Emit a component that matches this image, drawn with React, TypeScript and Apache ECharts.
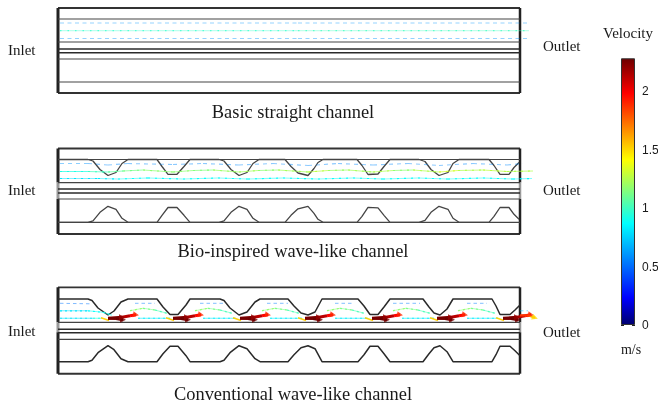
import React, { useEffect, useRef } from "react";
import * as echarts from "echarts";

type P2 = [number, number];
type P3 = [number, number, number];

const SERIF = "'Liberation Serif'";
const SANS = "'Liberation Sans'";

// velocity colour scale (bottom to top)
const velocityMax = 2.283;
const velocityStops: [number, string][] = [
  [0, "#00006e"], [0.1, "#0000ff"], [0.38, "#00ffff"], [0.62, "#ffff00"], [0.87, "#ff0000"], [1, "#6e0000"],
];
const velocityTicks = [0, 0.5, 1, 1.5, 2];

// Captions
const captions = ["Basic straight channel", "Bio-inspired wave-like channel", "Conventional wave-like channel"];

// Horizontal wall levels in each panel (panel-relative)
const panelHeights = [85, 85.5, 86.4];
const lines1 = [11, 34, 51, 74];
const thick1 = [41, 44.7];
const lines2 = [11, 34.2, 50.5, 73.8];
const thick2 = [40.5, 44.5];
const lines3 = [35, 52];
const thick3 = [42, 45.4];

// Wave walls: horizontal stations and depth of the wave at each
const waveX2 = [0,30,35,42,50,58,64,70,99,104,110,119,126,132,161,166,173,181,189,195,201,227,233,240,250,256,260,265,299,304,310,320,326,332,361,367,373,381,390,395,401,431,436,442,451,456,461];
const waveD2 = [0,0,1.5,10,16,13,4,0,0,7,14.8,14.8,7,0,0,1.5,10,16,13,4,0,0,7,13.5,16,9,3,0,0,6,15,14.5,7,0,0,2,10,16,13,4,0,0,6,14.8,14.8,8,3];
const waveX3 = [0,30,34,40,50,56,63,70,99,105,112,120,128,132,162,166,172,181,189,197,202,230,236,243,250,257,264,300,306,312,320,326,332,365,371,376,382,389,395,434,438,442,452,457,462];
const waveD3 = [0,0,1.5,9,16,12,3,0,0,8,15.5,15.5,6,0,0,1.5,9,16,13,3,0,0,7,14,16,13,0,0,7,15.5,15.5,8,0,0,8,14,16,10,0,0,7,15.5,15.5,11,6];
const waveTop2 = 11, waveBase2 = 73.8, waveTop3 = 11.7, waveBase3 = 74.4;

// Streamlines [x, y, velocity]
const flow1: P3[][] = [
  [[2, 15, 0.6], [240, 15, 0.6], [469, 15, 0.6]],
  [[2, 22.7, 0.95], [240, 22.7, 1.0], [471, 22.7, 1.0]],
  [[2, 30.5, 0.6], [240, 30.5, 0.6], [469, 30.5, 0.6]],
];
const flow2: P3[][] = [
  [[2, 15, 0.6], [30, 15, 0.6], [50, 16.5, 0.55], [70, 15, 0.6], [115, 16, 0.55], [145, 15, 0.6], [181, 16.5, 0.55], [215, 15, 0.6], [250, 17, 0.55], [280, 15, 0.6], [315, 16.5, 0.55], [350, 15, 0.6], [381, 17, 0.55], [415, 15, 0.6], [449, 16.5, 0.55], [465, 15, 0.6]],
  [[2, 23, 0.9], [30, 23, 0.95], [50, 23.5, 1.05], [65, 22.5, 1.1], [85, 21.5, 1.15], [115, 23.5, 1.2], [135, 22, 1.15], [155, 21.5, 1.15], [181, 23.5, 1.25], [200, 22, 1.2], [220, 21.5, 1.15], [250, 23.5, 1.3], [270, 22, 1.25], [290, 21.5, 1.15], [315, 23.5, 1.3], [335, 22, 1.2], [355, 21.5, 1.15], [381, 23.5, 1.35], [400, 22, 1.3], [425, 21.5, 1.2], [449, 23, 1.35], [475, 22.5, 1.15]],
  [[2, 30, 0.8], [40, 30, 0.8], [60, 30.5, 0.85], [90, 29.5, 0.9], [125, 30.5, 0.85], [160, 29.5, 0.9], [190, 30.5, 0.85], [225, 29.5, 0.9], [260, 30.5, 0.85], [295, 29.5, 0.9], [325, 30.5, 0.85], [360, 29.5, 0.9], [390, 30.5, 0.85], [425, 29.5, 0.9], [455, 30.5, 0.85], [474, 30, 0.85]],
];
const flow3Top: P3[][] = [
  [[2, 16, 0.55], [32, 16.5, 0.5]],
  [[77, 16, 0.55], [97, 16, 0.55]],
  [[142, 16, 0.55], [167, 16, 0.55]],
  [[209, 16, 0.55], [230, 16, 0.55]],
  [[277, 16, 0.55], [295, 16, 0.55]],
  [[335, 16, 0.55], [362, 16, 0.55]],
  [[409, 16, 0.55], [429, 16, 0.55]],
  [[462, 23.5, 0.7], [470, 23.5, 0.7]],
];
const flow3Mid: P3[][] = [
  [[2, 23.5, 0.75], [30, 23.5, 0.85], [45, 25, 0.9], [54, 28, 0.9]],
  [[72, 23.4, 1.2], [85, 21, 1.15], [97, 22.7, 1.1], [109, 26, 0.95]],
  [[137, 23.4, 1.2], [150, 21, 1.15], [162, 22.7, 1.1], [174, 26, 0.95]],
  [[204, 23.4, 1.2], [217, 21, 1.15], [229, 22.7, 1.1], [241, 26, 0.95]],
  [[269, 23.4, 1.2], [282, 21, 1.15], [294, 22.7, 1.1], [306, 26, 0.95]],
  [[335, 23.4, 1.2], [348, 21, 1.15], [360, 22.7, 1.1], [372, 26, 0.95]],
  [[400, 23.4, 1.2], [413, 21, 1.15], [425, 22.7, 1.1], [437, 26, 0.95]],
];
const flow3Low: P3[][] = [
  [[2, 31, 0.75], [35, 31, 0.85], [44, 31, 1.0]],
  [[80, 31, 0.8], [112, 31, 0.85]],
  [[145, 31, 0.8], [178, 31, 0.85]],
  [[212, 31, 0.8], [244, 31, 0.85]],
  [[277, 31, 0.8], [310, 31, 0.85]],
  [[344, 31, 0.8], [376, 31, 0.85]],
  [[409, 31, 0.8], [440, 31, 0.85]],
];

// Fast jets in the conventional channel: one arrow cluster per wave
const jetStarts = [50, 115, 182, 247, 314, 379, 445];
const jetFeed: P3[] = [[-7, 30.5, 1.5], [1, 33.3, 1.55]];
const jetMain: P3[] = [[0, 31, 2.28], [14, 30, 2.2], [22, 28.5, 2.05], [28, 27.5, 1.9]];
const jetSide: P3[] = [[0, 31, 2.25], [8, 31.2, 2.28], [15, 32.5, 2.28]];
const jetTailX = 477;
const jetTail: P3[] = [[462, 28, 2.05], [470, 28, 1.7], [477, 30.5, 1.5]];

function hexMix(a: string, b: string, t: number) {
  const c = (s: string, i: number) => parseInt(s.slice(1 + i * 2, 3 + i * 2), 16);
  const v = [0, 1, 2].map((i) => Math.round(c(a, i) + (c(b, i) - c(a, i)) * t));
  return `rgb(${v[0]},${v[1]},${v[2]})`;
}
function velocityColor(v: number) {
  const t = Math.min(1, Math.max(0, v / velocityMax));
  for (let i = 1; i < velocityStops.length; i++) {
    if (t <= velocityStops[i][0]) {
      const [p0, c0] = velocityStops[i - 1];
      const [p1, c1] = velocityStops[i];
      return hexMix(c0, c1, (t - p0) / (p1 - p0));
    }
  }
  return velocityStops[velocityStops.length - 1][1];
}

function wall(panel: number, pts: P2[], color: string, width: number, z = 3) {
  return {
    type: "line", xAxisIndex: panel, yAxisIndex: panel, data: pts, symbol: "none", silent: true, clip: false, z,
    animation: false, lineStyle: { color, width, cap: "butt" },
  };
}
function flowSeries(panel: number, pts: P3[], dash: number[] | null, width: number, opacity: number, z = 4) {
  const out: any[] = [];
  for (let i = 0; i + 1 < pts.length; i++) {
    out.push({
      type: "line", xAxisIndex: panel, yAxisIndex: panel, symbol: "none", silent: true, clip: false, z, animation: false,
      data: [[pts[i][0], pts[i][1]], [pts[i + 1][0], pts[i + 1][1]]],
      lineStyle: { color: velocityColor((pts[i][2] + pts[i + 1][2]) / 2), width, opacity, type: dash || "solid" },
    });
  }
  return out;
}
function shift(pts: P3[], dx: number): P3[] {
  return pts.map((p) => [p[0] + dx, p[1], p[2]] as P3);
}
function arrowHead(panel: number, x: number, y: number, v: number, rotate: number) {
  return {
    type: "scatter", xAxisIndex: panel, yAxisIndex: panel, silent: true, clip: false, z: 6, animation: false,
    data: [[x, y]], symbol: "triangle", symbolSize: [6, 6], symbolRotate: rotate,
    itemStyle: { color: velocityColor(v) },
  };
}

function frame(panel: number, height: number, grayFrom: number | null, grayTo: number | null) {
  const W = 462;
  const s: any[] = [wall(panel, [[0, 0], [W, 0]], "#333", 1.8), wall(panel, [[0, height], [W, height]], "#333", 2)];
  if (grayFrom === null) {
    s.push(wall(panel, [[0, 0], [0, height]], "#222", 3), wall(panel, [[W, 0], [W, height]], "#222", 2.5));
  } else {
    s.push(
      wall(panel, [[0, 0], [0, grayFrom]], "#222", 3), wall(panel, [[0, grayFrom], [0, grayTo as number]], "#999", 3),
      wall(panel, [[0, grayTo as number], [0, height]], "#222", 3),
      wall(panel, [[W, 0], [W, grayFrom]], "#222", 2.5), wall(panel, [[W, grayFrom], [W, grayTo as number]], "#999", 2.5),
      wall(panel, [[W, grayTo as number], [W, height]], "#222", 2.5),
    );
  }
  return s;
}
function levels(panel: number, thin: number[], thick: number[]) {
  const W = 462;
  return [
    ...thin.map((y) => wall(panel, [[0, y], [W, y]], "#444", 1.2)),
    ...thick.map((y) => wall(panel, [[0, y], [W, y]], "#2a2a2a", 1.6)),
  ];
}

function buildSeries() {
  const s: any[] = [];
  // panel 1
  s.push(...frame(0, panelHeights[0], null, null), ...levels(0, lines1, thick1));
  flow1.forEach((f, i) => {
    if (i === 1) s.push(...flowSeries(0, f, null, 1, 0.4));
    s.push(...flowSeries(0, f, i === 1 ? [1.5, 6] : [4, 3.5], 1, i === 1 ? 0.9 : 0.42));
  });
  // panel 2
  s.push(...frame(1, panelHeights[1], 34, 50.5), ...levels(1, lines2, thick2));
  s.push(wall(1, waveX2.map((x, i) => [x, waveTop2 + waveD2[i]] as P2), "#444", 1.3));
  s.push(wall(1, waveX2.map((x, i) => [x, waveBase2 - waveD2[i]] as P2), "#444", 1.3));
  flow2.forEach((f, i) => {
    if (i > 0) s.push(...flowSeries(1, f, null, 1.1, i === 1 ? 0.7 : 0.5));
    s.push(...flowSeries(1, f, i === 0 ? [4, 4] : [2, 5], 1.1, i === 0 ? 0.45 : 0.95));
  });
  // panel 3
  s.push(...frame(2, panelHeights[2], 35, 45), ...levels(2, lines3, thick3));
  s.push(wall(2, waveX3.map((x, i) => [x, waveTop3 + waveD3[i]] as P2), "#2a2a2a", 1.5));
  s.push(wall(2, waveX3.map((x, i) => [x, waveBase3 - waveD3[i]] as P2), "#2a2a2a", 1.5));
  flow3Top.forEach((f) => s.push(...flowSeries(2, f, [3.5, 3], 1, 0.5)));
  flow3Mid.forEach((f) => {
    s.push(...flowSeries(2, f, null, 1.1, 0.55));
    s.push(...flowSeries(2, f, [2, 3], 1.2, 0.9));
  });
  flow3Low.forEach((f) => {
    s.push(...flowSeries(2, f, null, 1.1, 0.6));
    s.push(...flowSeries(2, f, [2, 3], 1.1, 0.8));
  });
  jetStarts.forEach((x0) => {
    s.push(...flowSeries(2, shift(jetFeed, x0), null, 1.6, 0.95, 5));
    s.push(...flowSeries(2, shift(jetMain, x0), null, 3, 1, 6));
    s.push(...flowSeries(2, shift(jetSide, x0), null, 2.8, 1, 6));
    s.push(arrowHead(2, x0 + 28, 27.5, 1.9, -100));
    s.push(arrowHead(2, x0 + 15, 32.5, 2.28, -90));
    s.push(arrowHead(2, x0 + 14, 30, 2.2, -90));
  });
  s.push(...flowSeries(2, jetTail, null, 2.2, 1, 6));
  s.push(arrowHead(2, jetTailX, 30.5, 1.5, -110));
  // colour bar
  s.push({
    type: "bar", xAxisIndex: 3, yAxisIndex: 3, data: [velocityMax], barWidth: "100%", silent: true, animation: false,
    itemStyle: {
      borderColor: "#333", borderWidth: 1,
      color: new echarts.graphic.LinearGradient(0, 1, 0, 0, velocityStops.map(([offset, color]) => ({ offset, color }))),
    },
  });
  return s;
}

const hiddenX = (index: number) => ({ type: "value", gridIndex: index, min: 0, max: 480, show: false });
const hiddenY = (index: number) => ({ type: "value", gridIndex: index, min: 0, max: panelHeights[index], inverse: true, show: false });

function txt(text: string, x: number, y: number, size: number, align = "left") {
  return { type: "text", x, y, silent: true, style: { text, font: `${size}px ${SERIF}`, fill: "#1a1a1a", align, verticalAlign: "middle" } };
}

export default function App() {
  const ref = useRef<HTMLDivElement>(null);
  useEffect(() => {
    const chart = echarts.init(ref.current as HTMLDivElement, undefined, { renderer: "svg" });
    const barTick = { show: true, inside: true, length: 3, customValues: velocityTicks, lineStyle: { color: "#222", width: 1 } };
    chart.setOption({
      animation: false,
      backgroundColor: "#fff",
      grid: [
        { left: 58, width: 480, top: 8, height: panelHeights[0], outerBoundsMode: "none" },
        { left: 58, width: 480, top: 148.5, height: panelHeights[1], outerBoundsMode: "none" },
        { left: 58, width: 480, top: 287.3, height: panelHeights[2], outerBoundsMode: "none" },
        { left: 621, width: 14, top: 58.3, height: 266.7, outerBoundsMode: "none" },
      ],
      xAxis: [hiddenX(0), hiddenX(1), hiddenX(2), { type: "category", gridIndex: 3, data: ["Velocity"], show: false }],
      yAxis: [
        hiddenY(0), hiddenY(1), hiddenY(2),
        {
          type: "value", gridIndex: 3, min: 0, max: velocityMax, position: "right", splitLine: { show: false },
          axisLine: { show: false }, axisTick: barTick,
          axisLabel: { customValues: velocityTicks, margin: 7, color: "#1a1a1a", fontFamily: SANS, fontSize: 12 },
        },
        {
          type: "value", gridIndex: 3, min: 0, max: velocityMax, position: "left", splitLine: { show: false },
          axisLine: { show: false }, axisTick: barTick, axisLabel: { show: false },
        },
      ],
      series: buildSeries(),
      graphic: [
        txt("Inlet", 8, 50, 15), txt("Inlet", 8, 190, 15), txt("Inlet", 8, 331, 15),
        txt("Outlet", 543, 46, 15), txt("Outlet", 543, 190, 15), txt("Outlet", 543, 332, 15),
        txt(captions[0], 293, 112, 18.4, "center"), txt(captions[1], 293, 251, 18.4, "center"), txt(captions[2], 293, 394, 18.4, "center"),
        txt("Velocity", 628, 33, 15, "center"), txt("m/s", 631, 349, 14, "center"),
      ],
    });
    return () => chart.dispose();
  }, []);
  return <div ref={ref} style={{ position: "absolute", left: 0, top: 0, width: 658, height: 407, filter: "blur(0.45px)" }} />;
}
